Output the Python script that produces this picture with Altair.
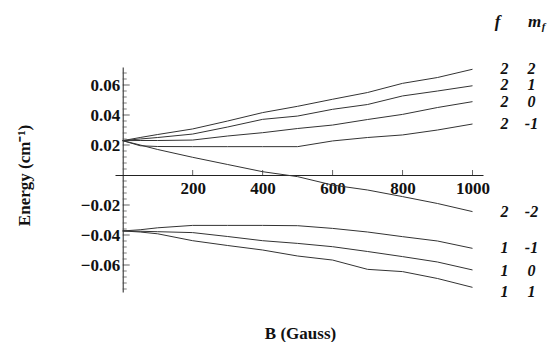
import altair as alt
import pandas as pd

B = [0, 50, 100, 200, 300, 400, 500, 600, 700, 800, 900, 1000]
e_2_2 = [0.0229, 0.0250, 0.0270, 0.0307, 0.0360, 0.0416, 0.0458, 0.0505, 0.0550, 0.0611, 0.0650, 0.0705]
e_2_1 = [0.0229, 0.0240, 0.0250, 0.0273, 0.0320, 0.0371, 0.0393, 0.0438, 0.0470, 0.0527, 0.0560, 0.0595]
e_2_0 = [0.0229, 0.0230, 0.0230, 0.0233, 0.0260, 0.0282, 0.0310, 0.0333, 0.0370, 0.0404, 0.0450, 0.0489]
e_2_m1 = [0.0229, 0.0195, 0.0190, 0.0189, 0.0189, 0.0189, 0.0189, 0.0227, 0.0250, 0.0267, 0.0300, 0.0340]
e_2_m2 = [0.0229, 0.0200, 0.0170, 0.0118, 0.0070, 0.0022, -0.0011, -0.0067, -0.0100, -0.0144, -0.0190, -0.0244]
e_1_m1 = [-0.0373, -0.0365, -0.0352, -0.0336, -0.0336, -0.0336, -0.0338, -0.0356, -0.0380, -0.0411, -0.0440, -0.0489]
e_1_0 = [-0.0373, -0.0375, -0.0378, -0.0384, -0.0410, -0.0438, -0.0456, -0.0478, -0.0510, -0.0544, -0.0580, -0.0633]
e_1_1 = [-0.0373, -0.0380, -0.0392, -0.0438, -0.0470, -0.0500, -0.0540, -0.0567, -0.0629, -0.0644, -0.0690, -0.0749]

series_names = ["2 2", "2 1", "2 0", "2 -1", "2 -2", "1 -1", "1 0", "1 1"]
series_vals = [e_2_2, e_2_1, e_2_0, e_2_m1, e_2_m2, e_1_m1, e_1_0, e_1_1]

label_f = ["2", "2", "2", "2", "2", "1", "1", "1"]
label_mf = ["2", "1", "0", "-1", "-2", "-1", "0", "1"]
label_y = [0.0710, 0.0597, 0.0487, 0.0340, -0.0247, -0.0487, -0.0637, -0.0780]

y_major = [-0.06, -0.04, -0.02, 0.02, 0.04, 0.06]
y_minor = [-0.076, -0.072, -0.068, -0.064, -0.056, -0.052, -0.048, -0.044,
           -0.036, -0.032, -0.028, -0.024, -0.016, -0.012, -0.008, -0.004,
           0.004, 0.008, 0.012, 0.016, 0.024, 0.028, 0.032, 0.036,
           0.044, 0.048, 0.052, 0.056, 0.064, 0.068]
x_major = [200, 400, 600, 800, 1000]

XDOM = [-22, 1030]
YDOM = [-0.078, 0.072]
FONT = "Liberation Serif"
FS = 17

rows = []
for name, vals in zip(series_names, series_vals):
    for b, v in zip(B, vals):
        rows.append({"B": b, "E": v, "state": name})
df = pd.DataFrame(rows)

xs = alt.Scale(domain=XDOM, nice=False, zero=False)
ys = alt.Scale(domain=YDOM, nice=False, zero=False)

lines = alt.Chart(df).mark_line(color="#333333", strokeWidth=1).encode(
    x=alt.X("B:Q", scale=xs, axis=alt.Axis(
        values=x_major, format="d", orient="bottom", offset=-117,
        ticks=False, grid=False, domainColor="#222", domainWidth=1,
        labelFont=FONT, labelFontSize=FS, labelFontWeight="bold", labelColor="#111",
        labelPadding=5,
        title="B (Gauss)", titleFont=FONT, titleFontSize=FS, titleFontWeight="bold",
        titleColor="#111", titleX=185, titleY=158, titleAnchor="middle",
        titleBaseline="middle", titleAlign="center")),
    y=alt.Y("E:Q", scale=ys, axis=alt.Axis(
        values=y_major, format=".2f", orient="left", offset=-7.7,
        ticks=False, grid=False, domainColor="#222", domainWidth=1,
        labelFont=FONT, labelFontSize=FS, labelFontWeight="bold", labelColor="#111",
        labelPadding=3,
        title="Energy (cm⁻¹)", titleFont=FONT, titleFontSize=FS, titleFontWeight="bold",
        titleColor="#111", titleX=-98, titleY=108, titleAngle=-90,
        titleBaseline="middle", titleAlign="center")),
    detail="state:N",
)

ymin_df = pd.DataFrame({"E": y_minor})
ymaj_df = pd.DataFrame({"E": y_major})
xmaj_df = pd.DataFrame({"B": x_major})

ytick_minor = alt.Chart(ymin_df).mark_tick(orient="horizontal", size=4, thickness=1, xOffset=2, color="#444").encode(
    x=alt.datum(0, scale=xs), y=alt.Y("E:Q", scale=ys))
ytick_major = alt.Chart(ymaj_df).mark_tick(orient="horizontal", size=7, thickness=1, xOffset=3.5, color="#222").encode(
    x=alt.datum(0, scale=xs), y=alt.Y("E:Q", scale=ys))
xtick_major = alt.Chart(xmaj_df).mark_tick(orient="vertical", size=5, thickness=1, yOffset=-2.5, color="#222").encode(
    x=alt.X("B:Q", scale=xs), y=alt.datum(0, scale=ys))

lab_df = pd.DataFrame({"B": [1000] * len(label_f), "y": label_y, "f": label_f, "mf": label_mf})
txt_style = dict(font=FONT, fontSize=16, fontStyle="italic", fontWeight="bold", color="#111", baseline="middle", align="center")
lab_f = alt.Chart(lab_df).mark_text(dx=32, **txt_style).encode(
    x=alt.X("B:Q", scale=xs), y=alt.Y("y:Q", scale=ys), text="f:N")
lab_mf = alt.Chart(lab_df).mark_text(dx=59, **txt_style).encode(
    x=alt.X("B:Q", scale=xs), y=alt.Y("y:Q", scale=ys), text="mf:N")

hdr_df = pd.DataFrame({"B": [1000], "y": [0.102]})
hdr_style = dict(txt_style)
hdr_style["fontSize"] = 17
hdr_f = alt.Chart(hdr_df).mark_text(dx=25, text="f", **hdr_style).encode(
    x=alt.X("B:Q", scale=xs), y=alt.Y("y:Q", scale=ys))
hdr_m = alt.Chart(hdr_df).mark_text(dx=62, text="m", **hdr_style).encode(
    x=alt.X("B:Q", scale=xs), y=alt.Y("y:Q", scale=ys))
sub_style = dict(txt_style)
sub_style["fontSize"] = 11
hdr_sub = alt.Chart(hdr_df).mark_text(dx=71, dy=5, text="f", **sub_style).encode(
    x=alt.X("B:Q", scale=xs), y=alt.Y("y:Q", scale=ys))

chart = alt.layer(
    lines, ytick_minor, ytick_major, xtick_major, lab_f, lab_mf, hdr_f, hdr_m, hdr_sub
).properties(
    width=368, height=225,
    autosize=alt.AutoSizeParams(type="none"),
    padding={"left": 107, "top": 59, "right": 68, "bottom": 50},
    background="white",
).configure_view(stroke=None)

chart.save("out.html", embed_options={"renderer": "svg", "actions": False})
